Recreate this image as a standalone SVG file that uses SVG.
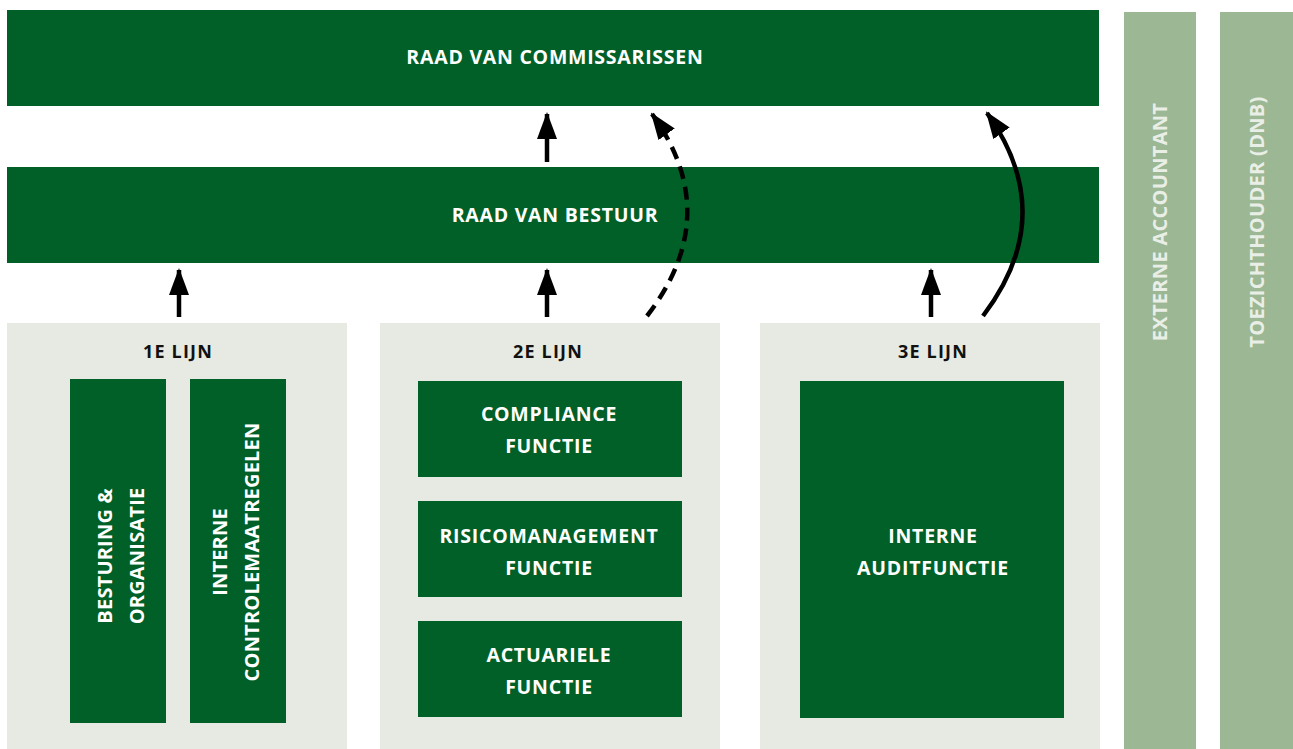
<svg xmlns="http://www.w3.org/2000/svg" width="1293" height="749" viewBox="0 0 1293 749">
<style>
.g{fill:#006028}
.p{fill:#e6eae3}
.s{fill:#9bb794}
text{font-family:"Open Sans","Liberation Sans",sans-serif;font-weight:700;text-anchor:middle}
.w{fill:#ffffff;font-size:19.5px;letter-spacing:0.75px}
.v{fill:#ffffff;font-size:20px;letter-spacing:0.2px}
.k{fill:#111111;font-size:18px;letter-spacing:1.2px}
.e{fill:#e9efe7;font-size:20px;letter-spacing:0.3px}
.a{fill:none;stroke:#000;stroke-width:4.5;marker-end:url(#ah)}
</style>
<defs>
<marker id="ah" markerUnits="userSpaceOnUse" viewBox="0 0 27 20" refX="25" refY="10" markerWidth="27" markerHeight="20" orient="auto">
<path d="M0,0 L27,10 L0,20 z" fill="#000"/>
</marker>
</defs>
<rect width="1293" height="749" fill="#fff"/>
<g id="rvc"><rect class="g" x="7" y="10" width="1092" height="96"/><text class="w" x="555" y="64">RAAD VAN COMMISSARISSEN</text></g>
<g id="rvb"><rect class="g" x="7" y="167" width="1092" height="96"/><text class="w" x="555" y="222">RAAD VAN BESTUUR</text></g>
<g id="lijn1"><rect class="p" x="7" y="323" width="340" height="426"/><text class="k" x="178" y="358">1E LIJN</text></g>
<g id="besturing"><rect class="g" x="70" y="379" width="96" height="344"/><text class="v" transform="translate(118,556) rotate(-90)"><tspan x="0" y="-6">BESTURING &amp;</tspan><tspan x="0" y="26">ORGANISATIE</tspan></text></g>
<g id="interne-controle"><rect class="g" x="190" y="379" width="96" height="344"/><text class="v" transform="translate(238,552) rotate(-90)"><tspan x="0" y="-11">INTERNE</tspan><tspan x="0" y="21">CONTROLEMAATREGELEN</tspan></text></g>
<g id="lijn2"><rect class="p" x="380" y="323" width="340" height="426"/><text class="k" x="548" y="358">2E LIJN</text></g>
<g id="compliance"><rect class="g" x="418" y="381" width="264" height="96"/><text class="w" x="549" y="421">COMPLIANCE</text><text class="w" x="549" y="453">FUNCTIE</text></g>
<g id="risico"><rect class="g" x="418" y="501" width="264" height="96"/><text class="w" x="549" y="543">RISICOMANAGEMENT</text><text class="w" x="549" y="575">FUNCTIE</text></g>
<g id="actuariele"><rect class="g" x="418" y="621" width="264" height="96"/><text class="w" x="549" y="662">ACTUARIELE</text><text class="w" x="549" y="694">FUNCTIE</text></g>
<g id="lijn3"><rect class="p" x="760" y="323" width="340" height="426"/><text class="k" x="933" y="358">3E LIJN</text></g>
<g id="audit"><rect class="g" x="800" y="381" width="264" height="337"/><text class="w" x="933" y="543">INTERNE</text><text class="w" x="933" y="575">AUDITFUNCTIE</text></g>
<g id="extern"><rect class="s" x="1124" y="12" width="72" height="737"/><text class="e" transform="translate(1167,222) rotate(-90)">EXTERNE ACCOUNTANT</text></g>
<g id="dnb"><rect class="s" x="1220" y="12" width="73" height="737"/><text class="e" transform="translate(1264,222) rotate(-90)">TOEZICHTHOUDER (DNB)</text></g>
<g id="connectors">
<line class="a" x1="547" y1="162" x2="547" y2="114"/>
<line class="a" x1="179" y1="317" x2="179" y2="270"/>
<line class="a" x1="547" y1="317" x2="547" y2="270"/>
<line class="a" x1="931" y1="317" x2="931" y2="270"/>
<path class="a" d="M647,316 Q725,215 652,114" stroke-dasharray="13 8"/>
<path class="a" d="M983,316 Q1060,215 987,113"/>
</g>
</svg>
